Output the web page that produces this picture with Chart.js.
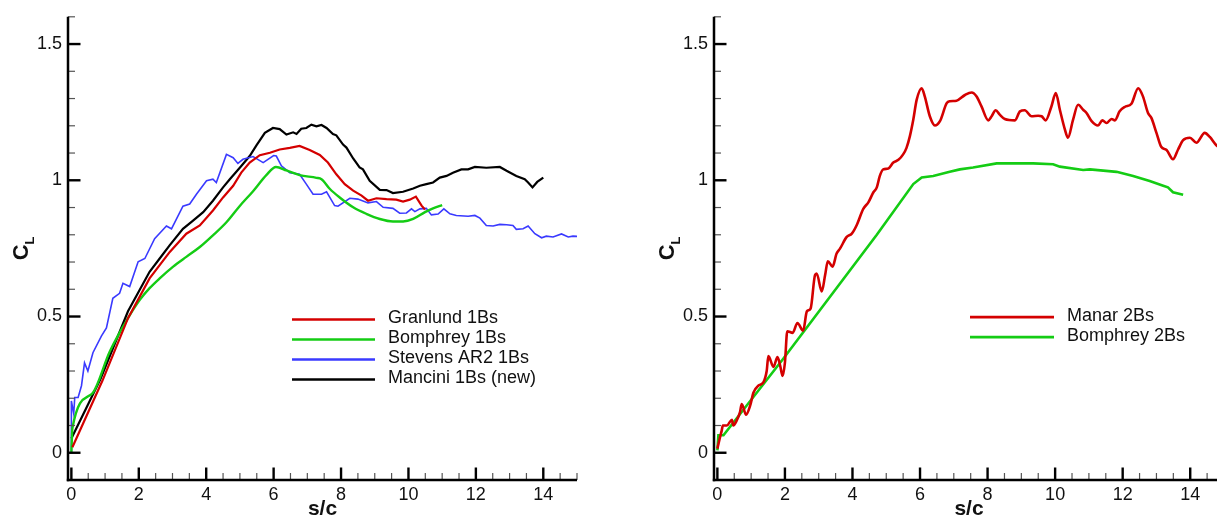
<!DOCTYPE html>
<html><head><meta charset="utf-8">
<script src="https://cdn.jsdelivr.net/npm/chart.js@4.4.0/dist/chart.umd.min.js"></script>
<style>
html,body{margin:0;padding:0;background:#fff;overflow:hidden;width:1217px;height:520px;position:relative;}
#c1{position:absolute;left:0;top:0;}
#c2{position:absolute;left:610px;top:0;}
</style></head><body>
<canvas id="c1" width="610" height="520"></canvas>
<canvas id="c2" width="620" height="520"></canvas>
<script>
// ---------- data (s/c , C_L) ----------
const granlund1Bs = [[0.03,0.02],[0.92,0.264],[1.68,0.494],[2.32,0.640],[2.92,0.737],[3.41,0.804],[3.81,0.834],[4.20,0.889],[4.50,0.937],[4.80,0.980],[5.04,1.028],[5.29,1.065],[5.59,1.092],[5.89,1.101],[6.18,1.113],[6.48,1.119],[6.77,1.126],[7.07,1.111],[7.37,1.093],[7.61,1.065],[7.86,1.022],[8.11,0.986],[8.36,0.962],[8.61,0.944],[8.80,0.925],[9.05,0.934],[9.35,0.931],[9.64,0.929],[9.84,0.922],[10.04,0.929],[10.22,0.940],[10.39,0.907],[10.49,0.893]];
const bomphrey1Bs = [[0,0],[0.03,0.09],[0.6,0.215],[1.14,0.372],[1.68,0.494],[2.03,0.561],[2.32,0.604],[2.62,0.640],[3.02,0.683],[3.41,0.719],[3.81,0.755],[4.20,0.798],[4.60,0.846],[4.99,0.905],[5.39,0.960],[5.79,1.020],[6.07,1.049],[6.38,1.036],[6.77,1.019],[7.27,1.009],[7.42,1.004],[7.67,0.968],[7.96,0.937],[8.36,0.901],[8.75,0.877],[9.15,0.858],[9.54,0.849],[9.84,0.849],[10.14,0.858],[10.49,0.883],[10.73,0.897],[11.0,0.909]];
const stevensAR2 = [[0,0],[0,0.19],[0.07,0.143],[0.1,0.203],[0.2,0.203],[0.3,0.246],[0.39,0.330],[0.49,0.300],[0.64,0.367],[0.89,0.428],[1.04,0.458],[1.23,0.567],[1.43,0.585],[1.53,0.622],[1.73,0.610],[1.98,0.701],[2.18,0.713],[2.47,0.786],[2.82,0.832],[2.97,0.822],[3.31,0.905],[3.51,0.913],[3.71,0.949],[4.01,0.998],[4.20,1.004],[4.30,0.992],[4.60,1.095],[4.80,1.083],[4.94,1.062],[5.09,1.077],[5.39,1.087],[5.69,1.065],[6.0,1.091],[6.08,1.089],[6.23,1.053],[6.48,1.028],[6.77,1.022],[6.97,0.986],[7.17,0.949],[7.42,0.949],[7.57,0.958],[7.81,0.907],[7.91,0.905],[8.26,0.934],[8.50,0.931],[8.80,0.917],[9.05,0.922],[9.25,0.901],[9.54,0.897],[9.74,0.879],[9.94,0.880],[10.09,0.895],[10.19,0.885],[10.34,0.895],[10.53,0.897],[10.68,0.873],[10.88,0.876],[11.05,0.895],[11.23,0.877],[11.42,0.871],[11.77,0.868],[11.97,0.871],[12.12,0.861],[12.31,0.834],[12.51,0.832],[12.71,0.838],[12.91,0.837],[13.10,0.834],[13.20,0.820],[13.40,0.822],[13.55,0.832],[13.75,0.804],[13.95,0.789],[14.09,0.795],[14.29,0.792],[14.54,0.803],[14.74,0.792],[14.88,0.795],[15.03,0.794]];
const mancini1Bs = [[0,0.052],[0.86,0.27],[1.68,0.519],[2.32,0.664],[2.62,0.713],[2.92,0.762],[3.31,0.822],[3.61,0.852],[3.91,0.883],[4.20,0.925],[4.50,0.974],[4.70,1.004],[4.99,1.045],[5.29,1.089],[5.49,1.128],[5.74,1.174],[5.98,1.192],[6.18,1.188],[6.38,1.168],[6.58,1.176],[6.68,1.170],[6.82,1.189],[6.97,1.192],[7.12,1.204],[7.27,1.198],[7.42,1.203],[7.57,1.192],[7.76,1.170],[7.86,1.165],[8.06,1.131],[8.16,1.120],[8.36,1.080],[8.55,1.047],[8.65,1.040],[8.85,0.998],[9.15,0.965],[9.35,0.964],[9.54,0.953],[9.84,0.958],[10.14,0.970],[10.34,0.980],[10.53,0.986],[10.73,0.992],[10.93,1.010],[11.13,1.016],[11.32,1.028],[11.57,1.040],[11.77,1.040],[11.97,1.049],[12.31,1.046],[12.71,1.049],[12.91,1.035],[13.20,1.016],[13.45,1.004],[13.55,0.992],[13.68,0.974],[13.82,0.994],[14.0,1.010]];
const manar2Bs = [[0,0.015],[0.08,0.058],[0.13,0.082],[0.16,0.100],[0.28,0.100],[0.43,0.121],[0.47,0.100],[0.57,0.118],[0.67,0.149],[0.72,0.179],[0.85,0.140],[0.97,0.173],[1.07,0.221],[1.21,0.246],[1.36,0.258],[1.46,0.300],[1.51,0.355],[1.66,0.315],[1.78,0.351],[1.86,0.319],[1.93,0.282],[2.0,0.331],[2.07,0.446],[2.23,0.440],[2.37,0.476],[2.54,0.448],[2.65,0.519],[2.76,0.529],[2.89,0.652],[2.94,0.658],[3.09,0.592],[3.19,0.652],[3.27,0.703],[3.41,0.683],[3.53,0.731],[3.63,0.749],[3.83,0.792],[3.98,0.804],[4.12,0.834],[4.32,0.895],[4.47,0.919],[4.62,0.956],[4.72,0.974],[4.81,1.016],[4.91,1.040],[5.06,1.043],[5.21,1.065],[5.36,1.075],[5.50,1.095],[5.60,1.119],[5.70,1.162],[5.80,1.222],[5.90,1.295],[6.05,1.338],[6.14,1.308],[6.29,1.235],[6.44,1.201],[6.59,1.217],[6.79,1.283],[6.88,1.290],[7.08,1.292],[7.33,1.313],[7.53,1.322],[7.67,1.308],[7.82,1.271],[8.02,1.220],[8.12,1.235],[8.24,1.257],[8.36,1.241],[8.51,1.225],[8.81,1.220],[8.96,1.253],[9.10,1.257],[9.30,1.235],[9.50,1.237],[9.60,1.235],[9.72,1.220],[9.89,1.271],[10.02,1.320],[10.14,1.259],[10.29,1.186],[10.38,1.156],[10.53,1.222],[10.68,1.277],[10.83,1.259],[10.93,1.247],[11.08,1.217],[11.27,1.201],[11.40,1.220],[11.52,1.210],[11.67,1.225],[11.77,1.220],[11.91,1.253],[12.06,1.269],[12.26,1.281],[12.46,1.338],[12.60,1.308],[12.75,1.247],[12.85,1.229],[13.0,1.174],[13.14,1.123],[13.30,1.111],[13.49,1.077],[13.64,1.113],[13.79,1.147],[13.99,1.156],[14.18,1.138],[14.43,1.174],[14.58,1.159],[14.78,1.128],[14.9,1.12]];
const bomphrey2Bs = [[0,0.009],[0.03,0.064],[0.18,0.064],[1.95,0.345],[3.43,0.588],[4.72,0.800],[5.80,0.986],[6.05,1.010],[6.39,1.016],[6.88,1.031],[7.18,1.040],[7.57,1.047],[8.27,1.062],[8.86,1.062],[9.35,1.062],[9.94,1.059],[10.14,1.050],[10.83,1.038],[11.03,1.040],[11.82,1.031],[12.31,1.016],[12.80,0.997],[13.20,0.980],[13.34,0.974],[13.49,0.956],[13.79,0.947]];

// axis definitions
const xRange = [-0.1, 15];
const yRange = [-0.1, 1.6];
const xTickLabels = [0, 2, 4, 6, 8, 10, 12, 14];
const yTickLabels = [0, 0.5, 1, 1.5];
const xMinorStep = 0.5, yMinorStep = 0.1;
const xTitle = 's/c';
const yTitleMain = 'C', yTitleSub = 'L';

const FONT = "'Liberation Sans', Arial, Helvetica, sans-serif";
Chart.defaults.font.family = FONT;

const isIn = (v, list) => list.some(t => Math.abs(t - v) < 1e-7);

const tecplotAxes = {
  id: 'tecplotAxes',
  afterDatasetsDraw(chart) {
    const ctx = chart.ctx, xs = chart.scales.x, ys = chart.scales.y, ca = chart.chartArea;
    ctx.save();
    ctx.lineCap = 'butt';
    const seg = (x1, y1, x2, y2, w, c) => { ctx.beginPath(); ctx.lineWidth = w; ctx.strokeStyle = c; ctx.moveTo(x1, y1); ctx.lineTo(x2, y2); ctx.stroke(); };
    for (let k = Math.ceil(xRange[0] / xMinorStep); k * xMinorStep <= xRange[1] + 1e-9; k++) {
      const v = k * xMinorStep; const px = xs.getPixelForValue(v);
      if (px > ca.right + 1) continue;
      const major = isIn(v, xTickLabels);
      seg(px, ca.bottom, px, ca.bottom - (major ? 12.5 : 7), major ? 2.4 : 1.2, major ? '#000' : '#555');
    }
    for (let k = Math.ceil(yRange[0] / yMinorStep - 1e-9); k * yMinorStep <= yRange[1] + 1e-9; k++) {
      const v = k * yMinorStep; const py = ys.getPixelForValue(v);
      const major = isIn(v, yTickLabels);
      seg(ca.left, py, ca.left + (major ? 12.5 : 7), py, major ? 2.4 : 1.2, major ? '#000' : '#555');
    }
    seg(ca.left, ca.top, ca.left, ca.bottom + 1.2, 2.5, '#000');
    seg(ca.left - 1.2, ca.bottom, ca.right, ca.bottom, 2.5, '#000');
    // y title C with subscript L
    ctx.fillStyle = '#111';
    ctx.translate(ca.left - 40, (ca.top + ca.bottom) / 2);
    ctx.rotate(-Math.PI / 2);
    ctx.textAlign = 'left'; ctx.textBaseline = 'alphabetic';
    ctx.font = 'bold 22px ' + FONT; const wC = ctx.measureText(yTitleMain).width;
    ctx.font = 'bold 13px ' + FONT; const wL = ctx.measureText(yTitleSub).width;
    const x0 = -(wC + wL) / 2;
    ctx.font = 'bold 22px ' + FONT; ctx.fillText(yTitleMain, x0, 0);
    ctx.font = 'bold 13px ' + FONT; ctx.fillText(yTitleSub, x0 + wC, 6);
    ctx.restore();
  }
};

const lineLegend = {
  id: 'lineLegend',
  afterDatasetsDraw(chart, args, o) {
    const ctx = chart.ctx, ca = chart.chartArea;
    ctx.save();
    chart.data.datasets.forEach((ds, i) => {
      const y = ca.top + o.top + i * o.gap;
      ctx.beginPath(); ctx.lineWidth = o.lw; ctx.strokeStyle = ds.borderColor;
      ctx.moveTo(ca.left + o.x1, y); ctx.lineTo(ca.left + o.x2, y); ctx.stroke();
      ctx.fillStyle = '#111'; ctx.font = '18px ' + FONT;
      ctx.textAlign = 'left'; ctx.textBaseline = 'middle';
      ctx.fillText(ds.label, ca.left + o.tx, y - 1);
    });
    ctx.restore();
  }
};

function series(label, pts, color, width, tension) {
  return { label, data: pts.map(p => ({ x: p[0], y: p[1] })), borderColor: color, backgroundColor: color,
    borderWidth: width, pointRadius: 0, fill: false, tension: tension, cubicInterpolationMode: tension ? 'monotone' : 'default' };
}

function makeChart(id, datasets, yWidth, padRight, legendOpts) {
  return new Chart(document.getElementById(id), {
    type: 'line',
    data: { datasets },
    options: {
      responsive: false, animation: false, devicePixelRatio: 1,
      layout: { padding: { top: 13, right: padRight, bottom: 0, left: 0 } },
      plugins: { legend: { display: false }, tooltip: { enabled: false }, lineLegend: legendOpts },
      scales: {
        x: { type: 'linear', min: xRange[0], max: xRange[1],
          grid: { display: false, drawTicks: false }, border: { display: false },
          afterBuildTicks: s => { s.ticks = xTickLabels.map(v => ({ value: v })); },
          ticks: { autoSkip: false, maxRotation: 0, padding: 4, color: '#111', font: { size: 18 },
            callback: v => String(v) },
          title: { display: true, text: xTitle, color: '#111', padding: { top: 0, bottom: 0 }, font: { size: 21, weight: 'bold', lineHeight: 1 } },
          afterFit: s => { s.height = 40; } },
        y: { type: 'linear', min: yRange[0], max: yRange[1],
          grid: { display: false, drawTicks: false }, border: { display: false },
          afterBuildTicks: s => { s.ticks = yTickLabels.map(v => ({ value: v })); },
          ticks: { autoSkip: false, padding: 6, color: '#111', font: { size: 18 },
            callback: v => String(v) },
          afterFit: s => { s.width = yWidth; } }
      }
    },
    plugins: [tecplotAxes, lineLegend]
  });
}

makeChart('c1', [
  series('Granlund 1Bs', granlund1Bs, '#d40000', 2.2, 0),
  series('Bomphrey 1Bs', bomphrey1Bs, '#14cc14', 2.4, 0.4),
  series('Stevens AR2 1Bs', stevensAR2, '#3a3aff', 1.6, 0),
  series('Mancini 1Bs (new)', mancini1Bs, '#000000', 2.2, 0)
], 68, 33, { x1: 224, x2: 307, tx: 320, top: 302.7, gap: 20, lw: 2.4 });

makeChart('c2', [
  series('Manar 2Bs', manar2Bs, '#d40000', 2.6, 0.4),
  series('Bomphrey 2Bs', bomphrey2Bs, '#14cc14', 2.6, 0)
], 104, 6, { x1: 256, x2: 340, tx: 353, top: 300.3, gap: 20, lw: 2.6 });
</script></body></html>
